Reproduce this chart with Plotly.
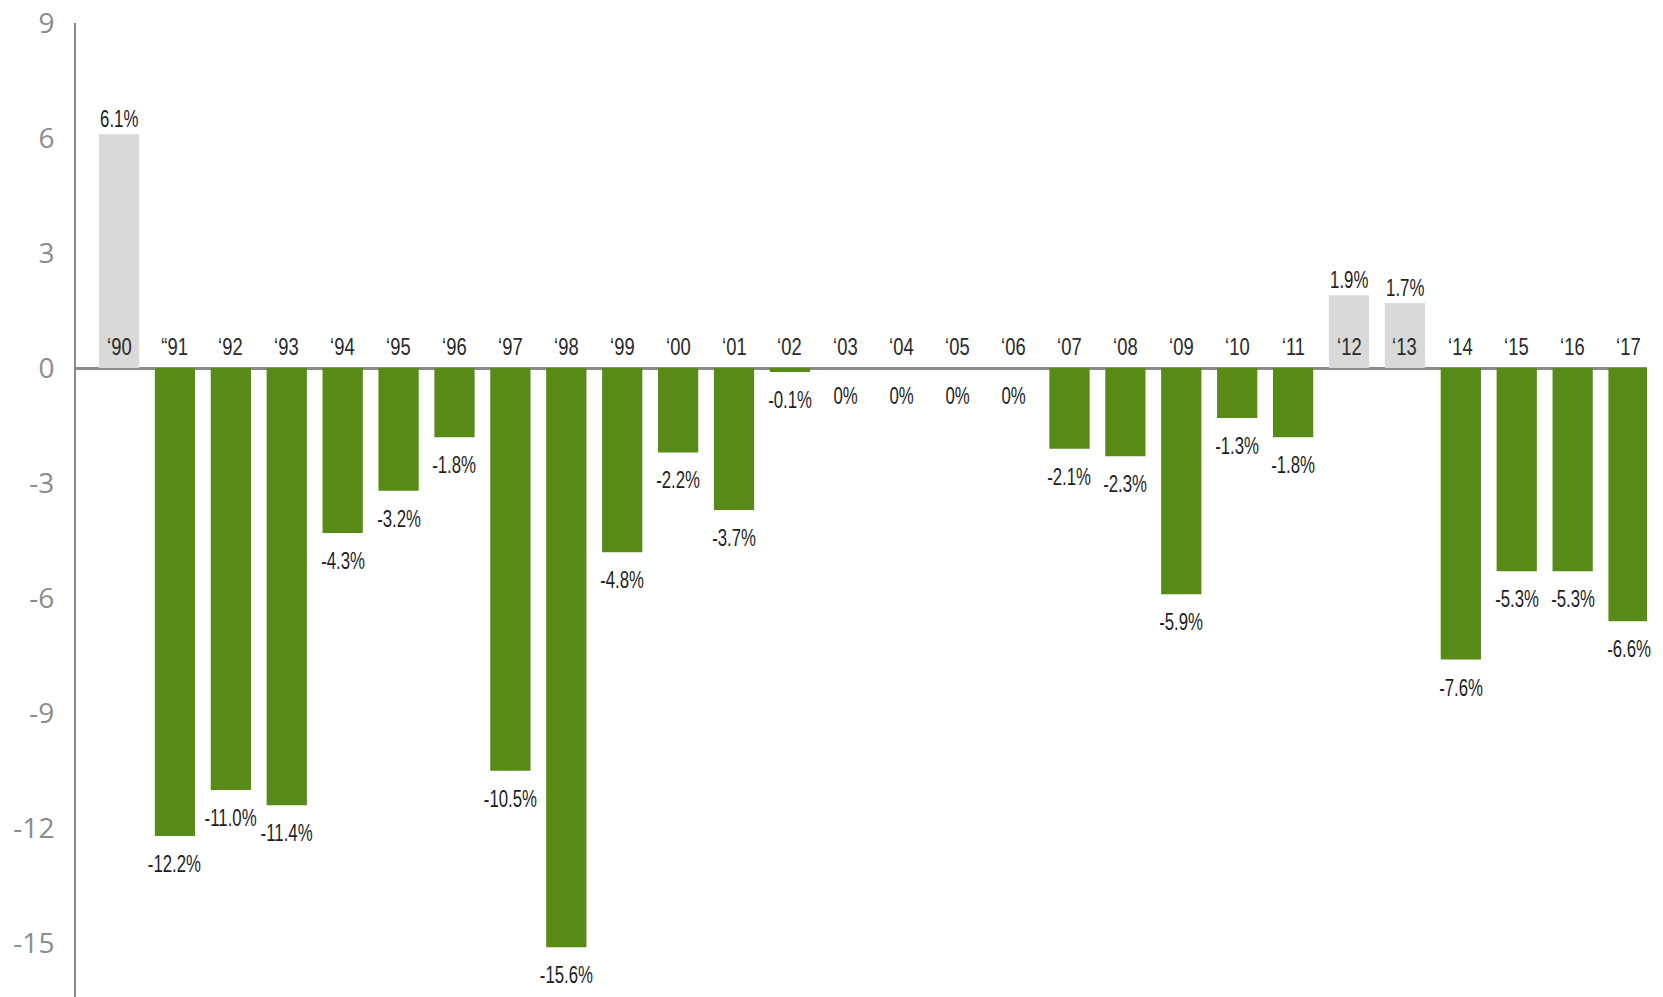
import plotly.graph_objects as go

years = ["‘90", "“91", "‘92", "‘93", "‘94", "‘95", "‘96", "‘97", "‘98", "‘99",
         "‘00", "‘01", "‘02", "‘03", "‘04", "‘05", "‘06", "‘07", "‘08", "‘09",
         "‘10", "‘11", "‘12", "‘13", "‘14", "‘15", "‘16", "‘17"]
values = [6.1, -12.2, -11.0, -11.4, -4.3, -3.2, -1.8, -10.5, -15.1, -4.8,
          -2.2, -3.7, -0.1, 0, 0, 0, 0, -2.1, -2.3, -5.9,
          -1.3, -1.8, 1.9, 1.7, -7.6, -5.3, -5.3, -6.6]
labels = ["6.1%", "-12.2%", "-11.0%", "-11.4%", "-4.3%", "-3.2%", "-1.8%", "-10.5%", "-15.6%", "-4.8%",
          "-2.2%", "-3.7%", "-0.1%", "0%", "0%", "0%", "0%", "-2.1%", "-2.3%", "-5.9%",
          "-1.3%", "-1.8%", "1.9%", "1.7%", "-7.6%", "-5.3%", "-5.3%", "-6.6%"]
y_ticks = [9, 6, 3, 0, -3, -6, -9, -12, -15]

GREEN = "#578a17"
GRAY = "#d9d9d9"
AXIS = "#8a8a8a"
LBL_FONT = "Liberation Sans, Arial, sans-serif"

xs = list(range(len(years)))
colors = [GRAY if v > 0 else GREEN for v in values]

fig = go.Figure()
fig.add_trace(go.Bar(x=xs, y=values, marker=dict(color=colors, line=dict(width=0)),
                     width=0.72, hoverinfo="skip"))

annotations = []
for i, (yr, v, lab) in enumerate(zip(years, values, labels)):
    annotations.append(dict(x=i, y=0, xref="x", yref="y", text=yr, showarrow=False,
                            yanchor="middle", yshift=21,
                            font=dict(family=LBL_FONT, size=23, color="#2a2a2a")))
    annotations.append(dict(x=i, y=v, xref="x", yref="y", text=lab, showarrow=False,
                            yanchor="middle", yshift=15 if v > 0 else -28,
                            font=dict(family=LBL_FONT, size=23, color="#1e1e1e")))

fig.update_layout(
    width=1663, height=997,
    margin=dict(l=76, r=16, t=23, b=0),
    paper_bgcolor="white", plot_bgcolor="white",
    showlegend=False,
    annotations=annotations,
    xaxis=dict(range=[-0.77, 27.33], showticklabels=False, showgrid=False,
               zeroline=False, showline=False, fixedrange=True),
    yaxis=dict(range=[-16.4, 9], tickvals=y_ticks, ticktext=[str(t) for t in y_ticks],
               showgrid=False, zeroline=True, zerolinecolor=AXIS, zerolinewidth=3,
               showline=True, linecolor=AXIS, linewidth=2, ticks="",
               ticklabelstandoff=14,
               tickfont=dict(family="Open Sans, Lato, sans-serif", size=28, color="#8c8c8c")),
)

# Condensed look for the labels (the original uses a condensed typeface)
post_script = """
var gd = document.getElementById('{plot_id}');
function squeeze(){
  gd.querySelectorAll('text.annotation-text').forEach(function(t){
    var s = (t.textContent.indexOf('%') >= 0) ? 0.73 : 0.8;
    t.style.transformBox = 'fill-box';
    t.style.transformOrigin = 'center';
    t.style.transform = 'scaleX(' + s + ')';
  });
}
squeeze();
if (gd.on) { gd.on('plotly_afterplot', squeeze); }
"""

fig.write_html("out.html", post_script=post_script)
